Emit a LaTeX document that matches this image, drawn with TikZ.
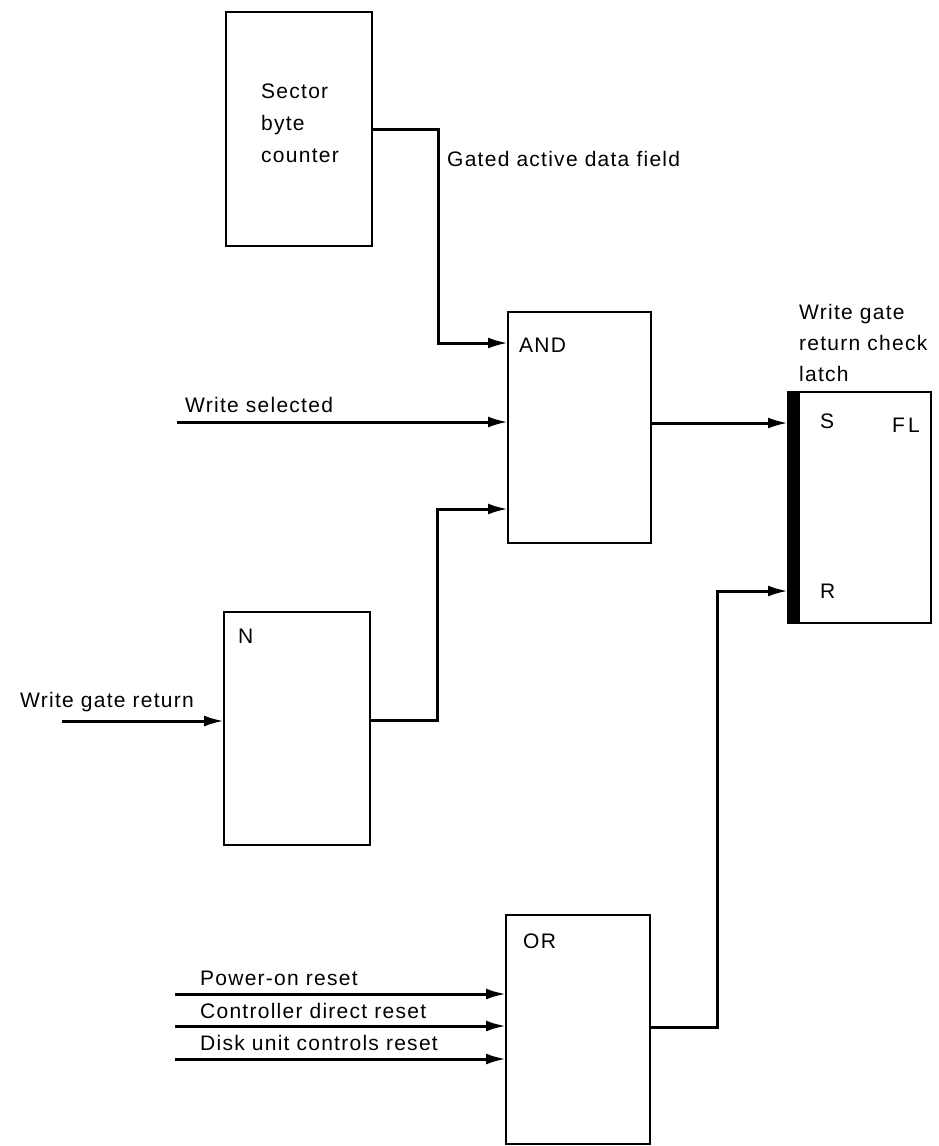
\documentclass[tikz,border=0pt]{standalone}
\usepackage{fontspec}
\setmainfont{Liberation Sans}[LetterSpace=6]
\usetikzlibrary{arrows.meta,calc}
\begin{document}
\begin{tikzpicture}[x=1pt,y=-1pt,
  blk/.style={draw,line width=2.5pt,rectangle,anchor=north west,inner sep=0pt,outer sep=0pt},
  wire/.style={line width=3pt},
  sig/.style={wire,-{Latex[length=20pt,width=11pt]}},
  lbl/.style={anchor=base west,inner sep=0pt,font=\fontsize{21}{32}\selectfont}]
\useasboundingbox (0,0) rectangle (938,1146);

% logic blocks
\node[blk,minimum width=146pt,minimum height=234pt] (cnt) at (226,12) {};
\node[blk,minimum width=143pt,minimum height=231pt] (and) at (508,312) {};
\node[blk,minimum width=146pt,minimum height=233pt] (inv) at (224,612) {};
\node[blk,minimum width=144pt,minimum height=229pt] (or) at (506,915) {};
\node[blk,minimum width=143pt,minimum height=231pt] (fl) at (788,392) {};
\node[anchor=north west,fill=black,inner sep=0pt,outer sep=0pt,
      minimum width=12pt,minimum height=231pt] (bar) at (fl.north west) {};

% block texts
\node[lbl] (cnttxt) at (261,98) {\begin{tabular}[t]{@{}l@{}}Sector\\byte\\counter\end{tabular}};
\node[lbl] (andtxt) at (519,352) {AND};
\node[lbl] (invtxt) at (238,643) {N};
\node[lbl] (ortxt) at (523,948) {OR};
\node[lbl] (stxt) at (820,428) {S};
\node[lbl] (rtxt) at (820,598) {R};
\node[lbl] (fltxt) at (892,432) {F\hspace{3pt}L};
\node[lbl,font=\fontsize{21}{31}\selectfont] (latch) at (799,319)
  {\begin{tabular}[t]{@{}l@{}}Write gate\\return check\\latch\end{tabular}};

% signal names
\node[lbl] (gated) at (447,166) {Gated active data field};
\node[lbl] (wsel) at (185,412) {Write selected};
\node[lbl] (wgr) at (20,707) {Write gate return};
\node[lbl] (por) at (200,985) {Power-on reset};
\node[lbl] (cdr) at (200,1018) {Controller direct reset};
\node[lbl] (dcr) at (200,1050) {Disk unit controls reset};

% ports
\coordinate (andA) at ($(and.north west)+(0,31)$);
\coordinate (andB) at ($(and.north west)+(0,110)$);
\coordinate (andC) at ($(and.north west)+(0,197)$);
\coordinate (andQ) at ($(and.north east)+(0,111)$);
\coordinate (invI) at ($(inv.north west)+(0,109)$);
\coordinate (invQ) at ($(inv.north east)+(0,108)$);
\coordinate (orA) at ($(or.north west)+(0,79)$);
\coordinate (orB) at ($(or.north west)+(0,111)$);
\coordinate (orC) at ($(or.north west)+(0,144)$);
\coordinate (orQ) at ($(or.north east)+(0,112)$);
\coordinate (flS) at ($(fl.north west)+(0,31)$);
\coordinate (flR) at ($(fl.north west)+(0,199)$);

% free input ends
\coordinate (wselin) at (177,422);
\coordinate (wgrin) at (62,721);
\coordinate (porin) at (175,994);
\coordinate (cdrin) at (175,1026);
\coordinate (dcrin) at (175,1059);

% connections
\draw[sig] (cnt.east) -| ($(andA)+(-70,0)$) -- (andA);
\draw[sig] (wselin) -- (andB);
\draw[sig] (invQ) -| ($(andC)+(-71,0)$) -- (andC);
\draw[sig] (wgrin) -- (invI);
\draw[sig] (andQ) -- (flS);
\draw[sig] (porin) -- (orA);
\draw[sig] (cdrin) -- (orB);
\draw[sig] (dcrin) -- (orC);
\draw[sig] (orQ) -| ($(flR)+(-71,0)$) -- (flR);
\end{tikzpicture}
\end{document}
